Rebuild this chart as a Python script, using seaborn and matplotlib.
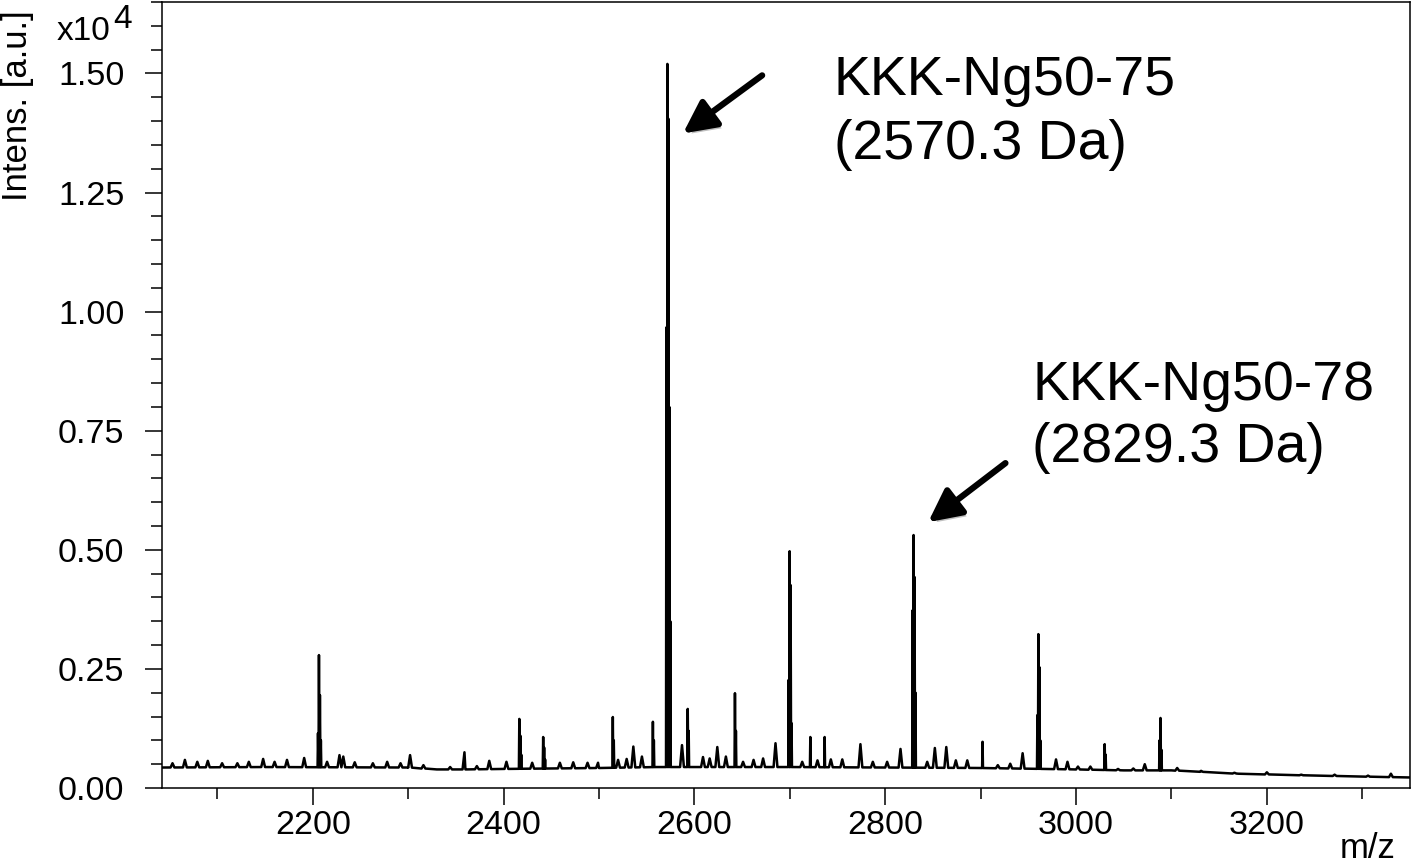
import matplotlib
matplotlib.use('Agg')
import matplotlib.pyplot as plt
import matplotlib.patheffects as pe
from matplotlib.ticker import MultipleLocator, FormatStrFormatter
import numpy as np
import pandas as pd
import seaborn as sns

# baseline level of the spectrum (m/z, intensity x1e4)
base_mz = [2042, 2150, 2300, 2330, 2360, 2400, 2500, 2560, 2620, 2700,
           2800, 2900, 3000, 3050, 3100, 3130, 3170, 3230, 3300, 3352]
base_int = [0.043, 0.044, 0.043, 0.039, 0.039, 0.040, 0.042, 0.044, 0.044, 0.044,
            0.043, 0.042, 0.039, 0.037, 0.037, 0.034, 0.030, 0.027, 0.024, 0.022]

# peaks with their isotope lines
peak_mz = [2205.5, 2206.5, 2207.5, 2208.5,
           2416.5, 2417.5, 2418.5,
           2441.5, 2442.5, 2443.5,
           2514.5, 2515.5,
           2556.5, 2557.5,
           2570.7, 2571.7, 2572.7, 2573.7, 2574.7,
           2593.0, 2594.0,
           2642.5, 2643.5,
           2698.8, 2699.8, 2700.8, 2701.8,
           2721.5, 2736.5,
           2828.7, 2829.7, 2830.7, 2831.7,
           2902.0,
           2959.5, 2960.5, 2961.5, 2962.5,
           3030.0, 3031.0,
           3087.5, 3088.5, 3089.5]
peak_int = [0.115, 0.279, 0.195, 0.100,
            0.145, 0.110, 0.070,
            0.107, 0.085, 0.060,
            0.149, 0.100,
            0.139, 0.100,
            0.967, 1.520, 1.405, 0.800, 0.350,
            0.166, 0.120,
            0.199, 0.120,
            0.227, 0.497, 0.426, 0.136,
            0.107, 0.107,
            0.373, 0.531, 0.443, 0.200,
            0.097,
            0.153, 0.323, 0.254, 0.100,
            0.092, 0.070,
            0.100, 0.147, 0.080]

# small noise spikes and humps
bump_mz = [2053, 2066, 2079, 2090, 2105, 2121, 2133, 2148, 2160, 2173, 2191,
           2215, 2228, 2232, 2244, 2263, 2278, 2292, 2302, 2316, 2344, 2359,
           2372, 2385, 2403, 2430, 2459, 2473, 2488, 2499, 2520, 2529, 2536,
           2545, 2587, 2609, 2616, 2624, 2633, 2651, 2662, 2672, 2685, 2713,
           2729, 2743, 2755, 2774, 2787, 2802, 2816, 2844, 2852, 2864, 2874,
           2886, 2918, 2931, 2944, 2979, 2991, 3002, 3015, 3044, 3060, 3072,
           3106, 3131, 3166, 3200, 3236, 3271, 3306, 3330]
bump_int = [0.052, 0.059, 0.055, 0.057, 0.052, 0.052, 0.055, 0.061, 0.055, 0.059, 0.063,
            0.055, 0.069, 0.066, 0.054, 0.052, 0.055, 0.052, 0.069, 0.048, 0.044, 0.075,
            0.046, 0.057, 0.055, 0.053, 0.053, 0.054, 0.053, 0.053, 0.059, 0.061, 0.087,
            0.066, 0.090, 0.065, 0.062, 0.086, 0.066, 0.055, 0.059, 0.062, 0.094, 0.055,
            0.058, 0.060, 0.060, 0.092, 0.055, 0.055, 0.082, 0.055, 0.084, 0.086, 0.058,
            0.058, 0.048, 0.051, 0.073, 0.060, 0.055, 0.045, 0.045, 0.040, 0.041, 0.050,
            0.042, 0.036, 0.032, 0.033, 0.028, 0.028, 0.026, 0.030]

labels = [('KKK-Ng50-75', '(2570.3 Da)'), ('KKK-Ng50-78', '(2829.3 Da)')]


def build_trace():
    pts = list(zip(base_mz, base_int))
    for m, h in zip(peak_mz, peak_int):
        f = np.interp(m, base_mz, base_int)
        pts += [(m - 0.45, f), (m, h), (m + 0.45, f)]
    for m, h in zip(bump_mz, bump_int):
        f = np.interp(m, base_mz, base_int)
        pts += [(m - 2.0, f), (m, h), (m + 2.0, f)]
    df = pd.DataFrame(pts, columns=['mz', 'intens'])
    return df.sort_values('mz', kind='stable').reset_index(drop=True)


sns.set_style('ticks')
plt.rcParams['font.family'] = ['Liberation Sans', 'DejaVu Sans']
plt.rcParams['text.color'] = 'black'

fig = plt.figure(figsize=(14.14, 8.67), dpi=100)
ax = fig.add_axes([162 / 1414, 79 / 867, 1248 / 1414, 786 / 867])

spec = build_trace()
sns.lineplot(data=spec, x='mz', y='intens', sort=False, estimator=None,
             color='black', lw=1.8, ax=ax)

ax.set_xlim(2042, 3350)
ax.set_ylim(0, 1.65)
ax.xaxis.set_major_locator(MultipleLocator(200))
ax.xaxis.set_minor_locator(MultipleLocator(100))
ax.yaxis.set_major_locator(MultipleLocator(0.25))
ax.yaxis.set_minor_locator(MultipleLocator(0.05))
ax.yaxis.set_major_formatter(FormatStrFormatter('%.2f'))
ax.set_xlabel('')
ax.set_ylabel('')

for s in ax.spines.values():
    s.set_linewidth(1.1)
    s.set_color('black')
ax.tick_params(axis='both', which='major', length=12, width=1.1, labelsize=24.5,
               colors='black', labelcolor='black')
ax.tick_params(axis='both', which='minor', length=8, width=1.1, colors='black')
ax.tick_params(axis='y', which='major', pad=15)
ax.tick_params(axis='x', which='major', pad=4)

# axis captions
fig.text(18 / 1414, 1 - 106 / 867, 'Intens. [a.u.]', rotation=90, fontsize=25,
         ha='center', va='center', color='black')
fig.text(57 / 1414, 1 - 40 / 867, 'x10', fontsize=24, ha='left', va='baseline', color='black')
fig.text(113 / 1414, 1 - 28 / 867, '4', fontsize=24, ha='left', va='baseline', color='black')
fig.text(1368 / 1414, 9 / 867, 'm/z', fontsize=25, ha='center', va='baseline', color='black')

# peak labels
ax.text(2746, 1.454, labels[0][0], fontsize=40, ha='left', va='baseline', color='black')
ax.text(2746, 1.32, labels[0][1], fontsize=40, ha='left', va='baseline', color='black')
ax.text(2954, 0.814, labels[1][0], fontsize=40, ha='left', va='baseline', color='black')
ax.text(2954, 0.684, labels[1][1], fontsize=40, ha='left', va='baseline', color='black')

shadow = [pe.SimplePatchShadow(offset=(2, -3), alpha=0.25), pe.Normal()]
arrow = dict(arrowstyle='-|>,head_length=0.9,head_width=0.45', lw=4.5, color='black',
             mutation_scale=22, shrinkA=0, shrinkB=0, path_effects=shadow)
ax.annotate('', xy=(2588, 1.374), xytext=(2671, 1.496), arrowprops=arrow)
ax.annotate('', xy=(2845, 0.558), xytext=(2926, 0.682), arrowprops=arrow)

fig.savefig('out.png', dpi=100)
plt.close(fig)
